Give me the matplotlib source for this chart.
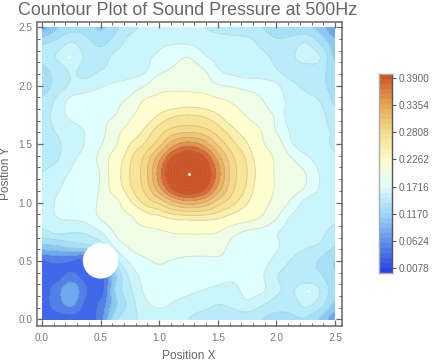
import matplotlib
matplotlib.use("Agg")
import matplotlib.pyplot as plt
import numpy as np
from matplotlib.colors import LinearSegmentedColormap
from matplotlib.patches import Circle

plt.rcParams["font.family"] = ["Liberation Sans", "DejaVu Sans"]

# measurement grid, rows go from y=2.5 down to y=0
pos_x = [0, .125, .25, .375, .5, .625, .75, .875, 1, 1.125, 1.25, 1.375, 1.5, 1.625, 1.75, 1.875, 2, 2.125, 2.25, 2.375, 2.5]
pos_y = [2.5, 2.375, 2.25, 2.125, 2, 1.875, 1.75, 1.625, 1.5, 1.375, 1.25, 1.125, 1, .875, .75, .625, .5, .375, .25, .125, 0]
pressure = [
    [.075, .10, .115, .115, .10, .118, .135, .145, .15, .152, .15, .142, .135, .13, .126, .122, .115, .11, .108, .095, .065],
    [.118, .127, .141, .128, .117, .13, .148, .153, .157, .158, .157, .153, .152, .15, .148, .135, .125, .13, .14, .118, .09],
    [.124, .143, .155, .138, .132, .146, .152, .157, .163, .172, .179, .163, .155, .152, .15, .146, .137, .138, .15, .141, .10],
    [.118, .128, .143, .135, .142, .148, .153, .158, .175, .185, .192, .183, .163, .155, .152, .15, .143, .132, .13, .13, .108],
    [.112, .13, .144, .15, .158, .164, .168, .18, .2, .2, .198, .195, .182, .178, .172, .17, .163, .147, .136, .128, .115],
    [.125, .145, .165, .17, .172, .175, .185, .212, .22, .228, .232, .228, .216, .205, .195, .181, .168, .155, .148, .14, .118],
    [.13, .15, .165, .172, .175, .18, .203, .228, .252, .266, .27, .266, .252, .226, .207, .19, .176, .15, .146, .146, .13],
    [.133, .143, .152, .162, .172, .198, .222, .252, .278, .295, .30, .295, .278, .255, .23, .208, .178, .157, .147, .145, .139],
    [.125, .138, .148, .162, .178, .205, .25, .272, .302, .344, .36, .344, .306, .276, .252, .215, .193, .163, .149, .146, .139],
    [.128, .139, .156, .168, .187, .23, .266, .295, .344, .40, .43, .40, .344, .295, .266, .23, .205, .182, .165, .152, .143],
    [.142, .152, .162, .17, .182, .235, .27, .30, .36, .43, .52, .43, .36, .30, .27, .235, .206, .193, .18, .158, .145],
    [.143, .157, .166, .172, .183, .23, .266, .295, .344, .40, .43, .40, .344, .295, .266, .23, .207, .193, .178, .158, .145],
    [.146, .162, .168, .173, .183, .198, .245, .275, .295, .325, .34, .33, .30, .276, .252, .222, .20, .176, .155, .147, .143],
    [.15, .16, .163, .167, .182, .192, .205, .235, .245, .258, .262, .262, .255, .24, .225, .208, .183, .158, .153, .15, .145],
    [.136, .146, .143, .145, .16, .183, .196, .20, .206, .213, .214, .214, .211, .19, .177, .172, .162, .152, .15, .146, .135],
    [.097, .10, .11, .115, .125, .165, .183, .192, .198, .20, .20, .20, .195, .172, .168, .168, .162, .15, .143, .138, .122],
    [.044, .05, .045, .034, .05, .13, .164, .176, .183, .178, .173, .172, .175, .17, .165, .165, .155, .14, .13, .12, .103],
    [.038, .038, .05, .036, .034, .10, .146, .166, .172, .167, .166, .164, .165, .164, .164, .162, .143, .13, .125, .124, .105],
    [.036, .055, .08, .047, .034, .105, .137, .163, .168, .166, .163, .16, .157, .155, .165, .163, .145, .138, .155, .14, .112],
    [.036, .054, .068, .04, .05, .098, .13, .155, .163, .158, .153, .148, .141, .145, .155, .143, .132, .13, .145, .13, .098],
    [.034, .035, .036, .035, .055, .115, .135, .145, .151, .148, .141, .132, .13, .13, .128, .122, .115, .118, .12, .10, .07],
]

levels = [.0078, .027, .046, .065, .084, .103, .122, .141, .16, .18, .21, .25, .27, .29, .31, .33, .35, .37, .39, .7]
band_colors = ["#3556e8", "#3f68ea", "#5280e8", "#6ea8ee", "#8cc8f5", "#a5e0f9", "#b8ecfa", "#caf5fb", "#e0fefd",
               "#eefee6", "#fefed0", "#fbf0ae", "#f8e396", "#f5d889", "#efc677", "#e9b565", "#e39350", "#d86a35", "#cf5a2c"]

bar_ticks = [.0078, .0624, .1170, .1716, .2262, .2808, .3354, .3900]
bar_colors = ["#2a45e8", "#5f8ee8", "#9bd4f7", "#dffcfd", "#fdfdd0", "#f5dc8a", "#e5a552", "#d0562a"]

# spots with no colour in the source picture
spot_x = [.23, 2.27, 1.25]
spot_y = [2.25, .24, 1.24]

text_col = "#666666"
frame_col = "#666666"


def smooth_up(z, n):
    # Catmull-Rom along axis 1, only so the contours come out round
    z = np.pad(z, ((0, 0), (1, 1)), mode="edge")
    out = []
    for i in range(z.shape[1] - 3):
        for t in np.arange(n) / n:
            out.append(.5 * (2 * z[:, i + 1] + (z[:, i + 2] - z[:, i]) * t
                             + (2 * z[:, i] - 5 * z[:, i + 1] + 4 * z[:, i + 2] - z[:, i + 3]) * t ** 2
                             + (3 * z[:, i + 1] - z[:, i] - 3 * z[:, i + 2] + z[:, i + 3]) * t ** 3))
    out.append(z[:, -2])
    return np.array(out).T


fig = plt.figure(figsize=(4.36, 3.64), dpi=100)
W, H = 436, 364
ax = fig.add_axes([36.7 / W, 1 - 326 / H, 305 / W, 304.3 / H])

n_up = 8
Z = smooth_up(smooth_up(np.array(pressure), n_up).T, n_up).T
xs = np.linspace(pos_x[0], pos_x[-1], Z.shape[1])
ys = np.linspace(pos_y[0], pos_y[-1], Z.shape[0])

ax.contourf(xs, ys, Z, levels=levels, colors=band_colors, extend="both")
ax.contour(xs, ys, Z, levels=levels[:-1], colors="#777777", linewidths=.7, alpha=.22)
ax.contour(xs, ys, Z, levels=np.arange(.40, .52, .015), colors="#8a3a18", linewidths=.4, alpha=.3)
ax.add_patch(Circle((.5, .5), .152, color="white", zorder=3, lw=0))
ax.scatter(spot_x, spot_y, s=4, color="white", lw=0, zorder=3)

ax.set_xlim(-.0455, 2.5573)
ax.set_ylim(-.058, 2.549)
ax.set_xticks([0, .5, 1, 1.5, 2, 2.5])
ax.set_yticks([0, .5, 1, 1.5, 2, 2.5])
ax.set_xticks(np.arange(0, 2.55, .1), minor=True)
ax.set_yticks(np.arange(0, 2.55, .1), minor=True)
ax.tick_params(which="major", direction="in", length=4, width=.9, top=True, right=True, color=frame_col,
               labelsize=7.2, labelcolor="#777777", pad=3)
ax.tick_params(axis="x", which="major", pad=5)
ax.tick_params(which="minor", direction="in", length=2, width=.7, top=True, right=True, color=frame_col)
for s in ax.spines.values():
    s.set_color(frame_col)
    s.set_linewidth(1.1)
ax.set_xlabel("Position X", fontsize=8.6, color=text_col, labelpad=5)
ax.set_ylabel("Position Y", fontsize=8.6, color=text_col, labelpad=5)
fig.text(18 / W, 1 - 15 / H, "Countour Plot of Sound Pressure at 500Hz", fontsize=12.9, color=text_col, va="baseline")

# colour bar
cax = fig.add_axes([378.5 / W, 1 - 273.3 / H, 13 / W, 199 / H])
stops = [(t - .0078) / (.39 - .0078) for t in bar_ticks]
cmap = LinearSegmentedColormap.from_list("bar", list(zip(stops, bar_colors)), N=40)
cax.imshow(np.linspace(1, 0, 40)[:, None], cmap=cmap, aspect="auto", extent=[0, 1, -.0024, .3968], vmin=0, vmax=1)
cax.set_xticks([])
cax.yaxis.tick_right()
cax.set_yticks(bar_ticks)
cax.set_yticklabels(["%.4f" % t for t in bar_ticks])
cax.tick_params(axis="y", direction="out", length=3, width=.8, color="#555555", labelsize=7.2, labelcolor="#666666", pad=2)
for side, s in cax.spines.items():
    s.set_linewidth(1)
    s.set_color("#555555" if side == "right" else "#aaaaaa")

fig.savefig("out.png", dpi=100)
